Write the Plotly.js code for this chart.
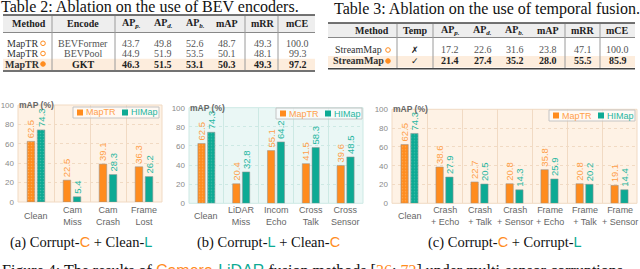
<!DOCTYPE html>
<html><head><meta charset="utf-8">
<script src="https://cdn.plot.ly/plotly-3.0.1.min.js"></script>
<style>html,body{margin:0;padding:0;background:#fff;overflow:hidden}#chart{width:640px;height:269px}</style>
</head><body><div id="chart"></div>
<script>
// ---------- chart data ----------
const catsA = ['Clean','Cam<br>Miss','Cam<br>Crash','Frame<br>Lost'];
const maptrA = [62.5, 22.5, 39.1, 36.3];
const himapA = [74.3, 5.4, 28.3, 26.2];
const catsB = ['Clean','LiDAR<br>Miss','Incom<br>Echo','Cross<br>Talk','Cross<br>Sensor'];
const maptrB = [62.5, 20.4, 55.1, 41.5, 39.6];
const himapB = [74.3, 32.8, 64.2, 58.3, 48.5];
const catsC = ['Clean','Crash<br>+ Echo','Crash<br>+ Talk','Crash<br>+ Sensor','Frame<br>+ Echo','Frame<br>+ Talk','Frame<br>+ Sensor'];
const maptrC = [62.5, 38.6, 22.7, 20.8, 35.8, 20.8, 19.1];
const himapC = [74.3, 27.9, 20.5, 14.3, 25.9, 20.2, 14.4];
const seriesNames = ['MapTR', 'HIMap'];
const yTicks = [0, 20, 40, 60, 80, 100];

// ---------- table data ----------
const t2Header = ['Method','Encode','AP<sub><i>p.</i></sub>','AP<sub><i>d.</i></sub>','AP<sub><i>b.</i></sub>','mAP','mRR','mCE'];
const t2Method = ['MapTR','MapTR','MapTR'];
const t2Filled = [false, false, true];
const t2Encode = ['BEVFormer','BEVPool','GKT'];
const t2APp = ['43.7','44.9','46.3'];
const t2APd = ['49.8','51.9','51.5'];
const t2APb = ['52.6','53.5','53.1'];
const t2mAP = ['48.7','50.1','50.3'];
const t2mRR = ['49.3','48.1','49.3'];
const t2mCE = ['100.0','99.3','97.2'];

const t3Header = ['Method','Temp','AP<sub><i>p.</i></sub>','AP<sub><i>d.</i></sub>','AP<sub><i>b.</i></sub>','mAP','mRR','mCE'];
const t3Method = ['StreamMap','StreamMap'];
const t3Filled = [false, true];
const t3Temp = ['✗','✓'];
const t3APp = ['17.2','21.4'];
const t3APd = ['22.6','27.4'];
const t3APb = ['31.6','35.2'];
const t3mAP = ['23.8','28.0'];
const t3mRR = ['47.1','55.5'];
const t3mCE = ['100.0','85.9'];

// ---------- styles ----------
const W = 640, H = 269;
const SERIF = 'Liberation Serif, Times New Roman, serif';
const SANS = 'Liberation Sans, Arial, sans-serif';
const ORANGE = '#FF8C1E', TEAL = '#0DAA94';
const ORANGE_T = '#FFA04A', TEAL_T = '#25B6A1';
const px = x => x / W;
const py = y => 1 - y / H;

const annotations = [];
const shapes = [];
function T(text, x, y, o) {
  o = o || {};
  annotations.push({xref:'paper', yref:'paper', x:px(x), y:py(y), text:text, showarrow:false,
    xanchor:o.xa || 'center', yanchor:o.ya || 'middle', borderpad:0,
    font:{family:o.f || SERIF, size:o.s || 10, color:o.c || '#333'}});
}
function L(x0, y0, x1, y1, c, w) {
  shapes.push({type:'line', xref:'paper', yref:'paper', x0:px(x0), y0:py(y0), x1:px(x1), y1:py(y1), line:{color:c, width:w}});
}
function R(x0, y0, x1, y1, fill, lc, lw) {
  shapes.push({type:'rect', xref:'paper', yref:'paper', x0:px(x0), y0:py(y0), x1:px(x1), y1:py(y1),
    fillcolor:fill, line:{color:lc || 'rgba(0,0,0,0)', width:lw || 0}});
}
function Circ(cx, cy, r, filled) {
  shapes.push({type:'circle', xref:'paper', yref:'paper', x0:px(cx - r), x1:px(cx + r), y0:py(cy + r), y1:py(cy - r),
    fillcolor: filled ? ORANGE : 'rgba(0,0,0,0)', line:{color:ORANGE, width:1}});
}
const sansSpan = (t, c) => `<span style="font-family:'Liberation Sans',Arial,sans-serif;color:${c}">${t}</span>`;

// ---------- Table 2 ----------
T('Table 2: Ablation on the use of BEV encoders.', 0, 6.5, {xa:'left', s:16, c:'#111'});
R(3, 15, 315, 32.3, '#EEEEEE');
R(3, 58.7, 315, 70, '#FDEDDD');
L(3, 15, 315, 15, '#444', 1.5);
L(3, 32.5, 315, 32.5, '#888', 1.2);
L(3, 71, 315, 71, '#444', 1.5);
[52, 115, 245, 278].forEach(x => L(x, 16, x, 70, '#9a9a9a', 1));
const t2X = [29, 83, 131, 163, 195, 227, 262.5, 297.5];
t2Header.forEach((h, i) => T('<b>' + h + '</b>', t2X[i], 24, {c:'#222'}));
const t2Rows = [43.3, 53.5, 64];
const t2Cols = [t2Encode, t2APp, t2APd, t2APb, t2mAP, t2mRR, t2mCE];
t2Method.forEach((m, r) => {
  const bold = t2Filled[r];
  T(bold ? '<b>' + m + '</b>' : m, 22, t2Rows[r], {c:'#333'});
  Circ(43, t2Rows[r], 2.3, t2Filled[r]);
  t2Cols.forEach((col, ci) => {
    T(bold ? '<b>' + col[r] + '</b>' : col[r], t2X[ci + 1], t2Rows[r], {c: bold ? '#222' : '#555'});
  });
});

// ---------- Table 3 ----------
T('Table 3: Ablation on the use of temporal fusion.', 333, 8.5, {xa:'left', s:16, c:'#111'});
R(328, 23, 635, 37.3, '#EEEEEE');
R(328, 56, 635, 67.5, '#FDEDDD');
L(328, 23, 635, 23, '#444', 1.5);
L(328, 37.5, 635, 37.5, '#888', 1.2);
L(328, 68.8, 635, 68.8, '#444', 1.5);
[397, 433, 565, 600].forEach(x => L(x, 24, x, 68, '#9a9a9a', 1));
const t3X = [373, 415, 450, 482.5, 514.5, 548, 582.5, 617.5];
t3Header.forEach((h, i) => {
  if (i === 0) T('<b>' + h + '</b>', 390, 30.5, {xa:'right', c:'#222'});
  else T('<b>' + h + '</b>', t3X[i], 30.5, {c:'#222'});
});
const t3Rows = [50, 61];
const t3Cols = [t3APp, t3APd, t3APb, t3mAP, t3mRR, t3mCE];
t3Method.forEach((m, r) => {
  const bold = t3Filled[r];
  T(bold ? '<b>' + m + '</b>' : m, 358.5, t3Rows[r], {c:'#333'});
  Circ(388, t3Rows[r], 2.3, t3Filled[r]);
  T(t3Temp[r], 415, t3Rows[r], {f:'DejaVu Sans, sans-serif', s:9, c:'#222'});
  t3Cols.forEach((col, ci) => {
    T(bold ? '<b>' + col[r] + '</b>' : col[r], t3X[ci + 2], t3Rows[r], {c: bold ? '#222' : '#555'});
  });
});

// ---------- charts ----------
const panels = [
  {cats:catsA, m:maptrA, h:himapA, xs:[18,162], ys:[202,105], bg:'#FEF2E5', grid:'#F1DAC3', legR:159, legT:107, sub:'(a) Corrupt-' + sansSpan('C', ORANGE) + ' + Clean-' + sansSpan('L', TEAL), subX:81},
  {cats:catsB, m:maptrB, h:himapB, xs:[189,363], ys:[203.3,107.7], bg:'#EAF7F5', grid:'#CDE9E4', legR:362, legT:108, sub:'(b) Corrupt-' + sansSpan('L', TEAL) + ' + Clean-' + sansSpan('C', ORANGE), subX:268},
  {cats:catsC, m:maptrC, h:himapC, xs:[392,637], ys:[203.3,109.3], bg:'#FEF2E5', grid:'#F1DAC3', legR:635, legT:110, sub:'(c) Corrupt-' + sansSpan('C', ORANGE) + ' + Corrupt-' + sansSpan('L', TEAL), subX:505}
];

const traces = [];
const layout = {
  width:W, height:H, margin:{l:0, r:0, t:0, b:0}, paper_bgcolor:'#fff', plot_bgcolor:'rgba(0,0,0,0)',
  showlegend:false, barmode:'group', bargap:0.44, bargroupgap:0.25,
  font:{family:SANS}, annotations:annotations, shapes:shapes
};

panels.forEach((p, k) => {
  const sfx = k === 0 ? '' : String(k + 1);
  const xa = 'x' + sfx, ya = 'y' + sfx;
  layout['xaxis' + sfx] = {domain:[px(p.xs[0]), px(p.xs[1])], anchor:ya, type:'category',
    range:[-0.5, p.cats.length - 0.5], showticklabels:false, ticks:'', tickson:'boundaries',
    showgrid:true, gridcolor:p.grid, gridwidth:1, zeroline:false, showline:false, fixedrange:true};
  layout['yaxis' + sfx] = {domain:[py(p.ys[0]), py(p.ys[1])], anchor:xa, range:[0, 100],
    tickvals:yTicks, ticks:'', ticklabelstandoff:3, tickfont:{family:SANS, size:8, color:'#8a8a8a'},
    showgrid:true, gridcolor:p.grid, griddash:'dot', gridwidth:1, zeroline:false, showline:false, fixedrange:true};
  // background
  shapes.push({type:'rect', xref:xa + ' domain', yref:ya + ' domain', x0:0, x1:1, y0:0, y1:1,
    fillcolor:p.bg, line:{color:p.grid, width:1}, layer:'below'});
  // bars
  [[p.m, ORANGE, ORANGE_T, '#FFA850'], [p.h, TEAL, TEAL_T, '#3DBDA9']].forEach((s, si) => {
    traces.push({type:'bar', x:p.cats, y:s[0], xaxis:xa, yaxis:ya, name:seriesNames[si],
      marker:{color:s[1], line:{color:'rgba(150,150,150,0.55)', width:1},
        pattern:{shape:p.cats.map(c => c === 'Clean' ? '.' : ''), bgcolor:s[1], fgcolor:s[3], fgopacity:1, fillmode:'replace', size:3, solidity:0.2}},
      text:s[0].map(v => v.toFixed(1)), textposition:'outside', textangle:-90, constraintext:'none',
      textfont:{family:SANS, size:9.5, color:s[2]}, outsidetextfont:{family:SANS, size:9.5, color:s[2]},
      cliponaxis:false, hoverinfo:'skip'});
  });
  // category labels
  p.cats.forEach(c => {
    annotations.push({xref:xa, yref:'paper', x:c, y:py(216), text:c, showarrow:false,
      xanchor:'center', yanchor:'middle', borderpad:0, font:{family:SANS, size:9, color:'#666'}});
  });
  // axis title
  annotations.push({xref:xa + ' domain', yref:ya, x:0, y:100, text:'<b>mAP (%)</b>', showarrow:false,
    xanchor:'left', yanchor:'middle', borderpad:0, font:{family:SANS, size:8.5, color:'#666'}});
  // legend
  const l0 = p.legR - 86;
  R(l0, p.legT, p.legR, p.legT + 11, 'rgba(255,255,255,0.55)', '#c4c4c4', 1);
  R(l0 + 4, p.legT + 2.5, l0 + 10, p.legT + 8.5, ORANGE);
  T(seriesNames[0], l0 + 12, p.legT + 5.5, {xa:'left', f:SANS, s:9, c:ORANGE_T});
  R(l0 + 49, p.legT + 2.5, l0 + 55, p.legT + 8.5, TEAL);
  T(seriesNames[1], l0 + 57, p.legT + 5.5, {xa:'left', f:SANS, s:9, c:TEAL_T});
  // sub caption
  T(p.sub, p.subX, 242, {s:14.5, c:'#111'});
});

// figure caption (partially clipped at bottom)
T('Figure 4: The results of ' + sansSpan('Camera', ORANGE) + '-' + sansSpan('LiDAR', TEAL) +
  ' fusion methods [' + `<span style="color:${ORANGE}">36</span>` + '; ' + `<span style="color:${ORANGE}">72</span>` +
  '] under multi-sensor corruptions.', 1, 261, {xa:'left', ya:'top', s:16, c:'#111'});

Plotly.newPlot('chart', traces, layout, {displayModeBar:false, staticPlot:true});
</script></body></html>
